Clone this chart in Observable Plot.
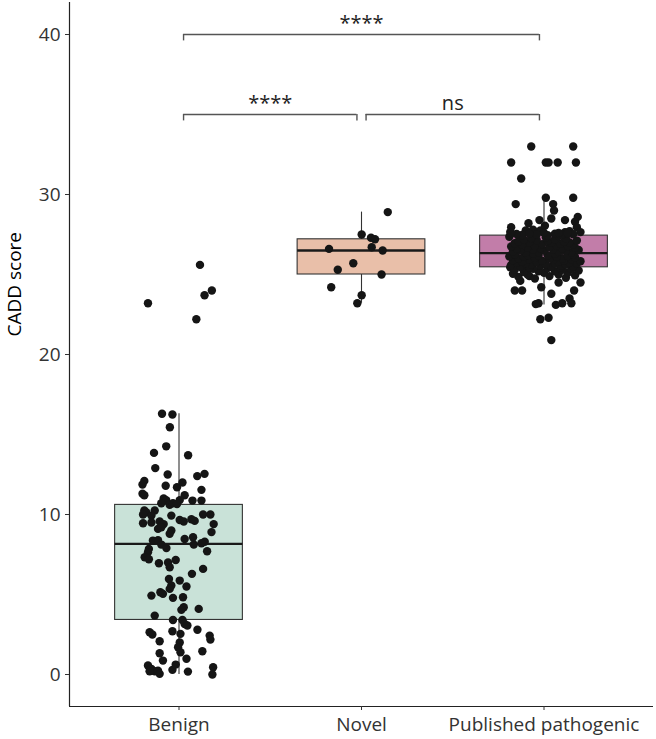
<!DOCTYPE html>
<html><head><meta charset="utf-8">
<script src="https://cdn.jsdelivr.net/npm/d3@7"></script>
<script src="https://cdn.jsdelivr.net/npm/@observablehq/plot@0.6"></script>
<style>body{margin:0;background:#fff} svg{display:block}</style>
</head><body><div id="chart"></div>
<script>
// Categories and box colours
const categories = ["Benign", "Novel", "Published pathogenic"];
const boxFill = ["#c9e2d8", "#e9bfa9", "#c27da9"];

// Box-plot statistics
const whiskerLow  = [0.0, 23.2, 23.1];
const q1          = [3.41, 25.0, 25.45];
const median      = [8.16, 26.5, 26.33];
const q3          = [10.6, 27.2, 27.43];
const whiskerHigh = [16.3, 28.9, 29.8];

// Points (CADD score) and their horizontal jitter (in category units)
const benignScores = [25.6,24.0,23.7,23.2,22.2,16.3,16.25,15.45,14.26,13.85,13.7,12.9,12.5,12.4,12.54,12.1,11.87,11.8,11.7,12.0,11.54,11.3,11.2,11.0,10.9,11.2,10.9,10.87,10.87,10.7,10.6,10.7,10.66,10.25,10.14,10.25,9.93,10.0,9.93,10.0,10.0,9.66,9.56,9.7,9.6,9.45,9.5,9.57,9.4,9.4,9.1,9.2,9.0,8.8,8.9,8.58,8.47,8.37,8.4,8.3,8.2,8.12,8.12,7.9,7.85,7.64,7.7,7.33,7.2,6.95,7.0,7.16,6.7,6.6,6.29,5.97,5.87,5.56,5.5,5.35,5.14,5.04,4.93,4.79,4.83,4.2,4.04,4.1,3.68,3.41,3.41,3.16,3.06,2.8,2.7,2.64,2.5,2.08,2.54,2.0,2.43,2.18,1.7,1.39,1.33,0.87,0.98,1.45,0.56,0.35,0.2,0.24,0.04,0.2,0.29,0.62,0.18,0.45,0.0];
const benignJitter = [0.115,0.18,0.14,-0.17,0.095,-0.093,-0.036,-0.05,-0.07,-0.137,0.05,-0.13,-0.062,0.1,0.14,-0.19,-0.2,-0.073,-0.011,0.019,0.123,-0.2,-0.19,-0.084,-0.07,0.031,0.004,0.074,0.123,-0.097,-0.051,-0.033,-0.011,-0.19,-0.18,-0.133,-0.151,-0.197,-0.042,0.132,0.172,0.004,0.026,0.068,0.086,-0.197,-0.151,-0.106,-0.084,0.19,-0.115,-0.097,-0.042,-0.051,0.178,0.077,0.031,-0.143,-0.115,0.141,0.123,0.081,-0.097,-0.069,-0.165,-0.17,0.154,-0.188,-0.165,-0.11,-0.06,-0.018,-0.051,0.132,0.071,-0.055,0.004,-0.042,0.041,-0.051,-0.102,-0.088,-0.151,-0.033,0.022,0.026,0.013,0.108,-0.133,-0.033,0.019,0.031,0.046,0.101,-0.036,-0.161,-0.146,-0.106,0.008,0.004,0.168,0.172,-0.005,0.008,-0.106,-0.088,0.041,0.128,-0.17,-0.151,-0.133,-0.115,-0.106,-0.161,-0.036,-0.018,0.049,0.187,0.183];

const novelScores = [28.9,27.5,27.3,27.2,26.7,26.6,26.5,25.7,25.3,25.0,24.2,23.7,23.2];
const novelJitter = [0.144,0.001,0.052,0.074,0.056,-0.178,0.116,-0.045,-0.13,0.11,-0.166,0.001,-0.023];

const pathogenicScores = [
  33.0,33.0,32.0,32.0,32.0,32.0,32.0,31.0,29.8,29.8,29.4,29.4,29.0,28.5,28.4,28.2,28.4,28.6,28.3,27.95,27.95,27.65,27.65,27.7,27.65,27.75,27.8,27.75,28.05,
  25.45,24.9,24.6,24.2,24.5,24.5,24.0,24.0,24.0,23.8,23.5,23.2,23.15,23.2,23.1,23.2,22.2,22.3,20.9,
  24.75,24.8,24.85,24.9,24.95,25.0,25.0,25.05,25.1,25.1,25.15,25.2,25.2,25.25,25.3,25.3,25.35,25.35,25.4,25.4,25.42,25.44,
  25.47,25.5,25.52,25.55,25.58,25.6,25.6,25.63,25.65,25.68,25.7,25.7,25.73,25.75,25.78,25.8,25.8,25.83,25.85,25.88,25.9,25.92,25.95,25.97,26.0,26.0,26.02,26.05,26.08,26.1,26.1,26.13,26.15,26.18,26.2,26.22,26.25,26.27,26.3,26.32,
  26.35,26.38,26.4,26.42,26.45,26.48,26.5,26.5,26.53,26.55,26.58,26.6,26.62,26.65,26.68,26.7,26.72,26.75,26.78,26.8,26.82,26.85,26.88,26.9,26.92,26.95,26.98,27.0,27.02,27.05,27.08,27.1,27.12,27.15,27.18,27.2,27.25,27.28,27.32,27.36,27.4,
  27.45,27.47,27.5,27.5,27.52,27.53,27.55,27.56,27.58,27.58,27.6,27.6];
const pathogenicJitter = [
  -0.07,0.16,-0.18,0.01,0.025,0.075,0.175,-0.125,0.01,0.16,-0.155,0.05,0.055,0.04,-0.025,-0.085,0.115,0.185,0.17,0.18,-0.18,-0.185,0.115,0.14,0.2,-0.1,-0.06,-0.02,0.005,
  -0.185,-0.08,-0.13,-0.015,0.08,0.2,-0.16,-0.12,0.165,0.04,0.14,0.15,-0.045,-0.03,0.065,0.1,-0.02,0.025,0.04,
  -0.05,0.12,-0.14,0.03,0.17,-0.09,0.08,-0.17,0.0,0.13,-0.11,0.06,-0.03,0.19,-0.16,0.1,-0.06,0.15,-0.12,0.02,0.09,-0.08,
  0.04,-0.13,0.16,-0.02,0.09,-0.18,0.12,-0.07,0.01,0.18,-0.1,0.06,-0.15,0.14,-0.04,0.08,-0.12,0.2,-0.01,0.11,-0.17,0.05,-0.08,0.15,-0.14,0.03,0.1,-0.05,0.17,-0.11,0.07,-0.19,0.13,-0.03,0.02,-0.09,0.16,-0.16,0.06,-0.06,
  -0.1,0.15,-0.03,0.08,-0.17,0.12,0.0,-0.13,0.19,-0.06,0.05,-0.15,0.1,-0.02,0.17,-0.09,0.03,-0.18,0.13,-0.05,0.07,-0.12,0.16,-0.01,0.09,-0.16,0.04,0.14,-0.08,0.11,-0.14,0.02,0.18,-0.04,-0.11,0.06,0.12,-0.07,0.01,-0.19,0.08,
  0.02,-0.12,0.1,-0.04,0.16,-0.15,0.06,-0.08,0.13,-0.18,0.0,0.08];

// Significance brackets
const bracketFrom  = [1, 1, 2];
const bracketTo    = [3, 2, 3];
const bracketY     = [40, 35, 35];
const bracketLabel = ["****", "****", "ns"];

// y-axis ticks
const yTicks = [0, 10, 20, 30, 40];

// ---- build tables ----
const boxes = categories.map((c, i) => ({
  pos: i + 1, fill: boxFill[i], lo: whiskerLow[i], q1: q1[i], med: median[i], q3: q3[i], hi: whiskerHigh[i]
}));
const points = [];
[[benignScores, benignJitter], [novelScores, novelJitter], [pathogenicScores, pathogenicJitter]]
  .forEach(([s, j], i) => s.forEach((v, k) => points.push({pos: i + 1 + j[k], score: v})));
const brackets = bracketFrom.map((f, i) => ({from: f, to: bracketTo[i], y: bracketY[i], label: bracketLabel[i]}));
const legs = brackets.flatMap(b => [{x: b.from + 0.025, y: b.y}, {x: b.to - 0.025, y: b.y}]);
const halfW = 0.35, shorten = 0.025, tip = 0.4;

const chart = Plot.plot({
  width: 656, height: 739,
  marginLeft: 69, marginRight: 3, marginTop: 2, marginBottom: 33,
  style: {fontFamily: "'Open Sans', sans-serif", fontSize: "19px", background: "#fff"},
  x: {type: "linear", domain: [0.4, 3.6]},
  y: {domain: [-2, 42]},
  marks: [
    // whiskers
    Plot.ruleX(boxes, {x: "pos", y1: "lo", y2: "hi", stroke: "#333", strokeWidth: 1.1}),
    // boxes
    Plot.rect(boxes, {x1: d => d.pos - halfW, x2: d => d.pos + halfW, y1: "q1", y2: "q3", fill: "fill", stroke: "#333", strokeWidth: 1.1}),
    Plot.ruleY(boxes, {y: "med", x1: d => d.pos - halfW, x2: d => d.pos + halfW, stroke: "#1a1a1a", strokeWidth: 2.3}),
    // jittered points
    Plot.dot(points, {x: "pos", y: "score", r: 4.2, fill: "#151515", stroke: "none"}),
    // brackets
    Plot.ruleY(brackets, {y: "y", x1: d => d.from + shorten, x2: d => d.to - shorten, stroke: "#555", strokeWidth: 1.4}),
    Plot.ruleX(legs, {x: "x", y1: "y", y2: d => d.y - tip, stroke: "#555", strokeWidth: 1.4}),
    Plot.text(brackets, {x: d => (d.from + d.to) / 2, y: "y", text: "label", lineAnchor: "bottom", dy: -5, fontSize: 20, fill: "#222"}),
    // axes
    Plot.ruleX([0.4], {stroke: "#222", strokeWidth: 1.2}),
    Plot.ruleY([-2], {stroke: "#222", strokeWidth: 1.2}),
    Plot.axisX({ticks: [1, 2, 3], tickFormat: i => categories[i - 1], tickSize: 4, tickPadding: 7, label: null, fontSize: 19, color: "#333"}),
    Plot.axisY({ticks: yTicks, tickSize: 4, tickPadding: 5, label: null, fontSize: 19, color: "#333"}),
    Plot.text(["CADD score"], {frameAnchor: "left", rotate: -90, dx: -55, dy: -18, fontSize: 19, fill: "#000"})
  ]
});
document.getElementById("chart").appendChild(chart);
</script>
</body></html>
